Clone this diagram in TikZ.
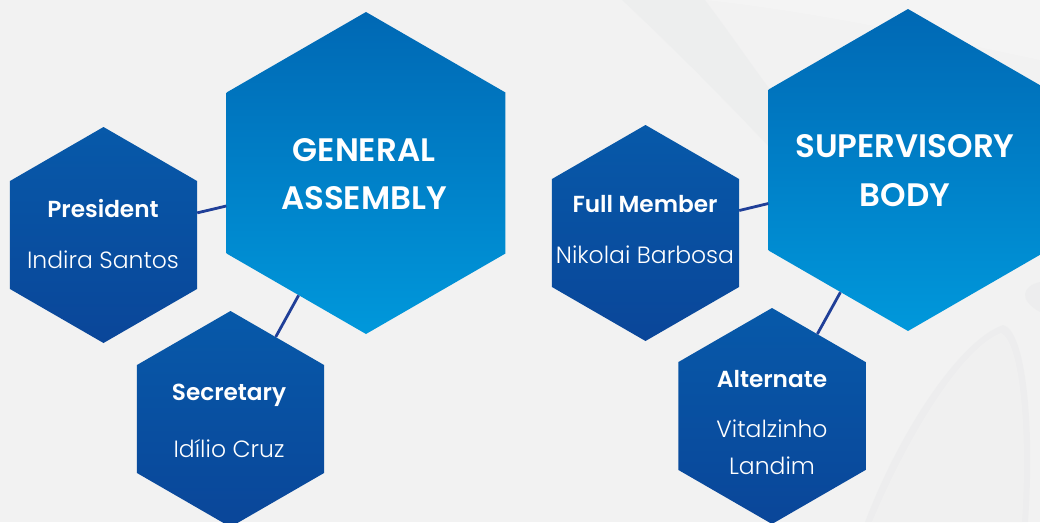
\documentclass[tikz,border=0pt]{standalone}
\usepackage{fontspec}
\setmainfont{Poppins}
\newfontfamily\popsemi{Poppins SemiBold}
\newfontfamily\poplight{Poppins Light}
\usetikzlibrary{shapes.geometric}

\definecolor{bg}{HTML}{F2F2F2}
\definecolor{swoosh}{HTML}{E9EAEB}
\definecolor{bigtop}{HTML}{0068B4}
\definecolor{bigbot}{HTML}{0098DB}
\definecolor{smalltop}{HTML}{0759A9}
\definecolor{smallbot}{HTML}{0A4699}
\definecolor{linkblue}{HTML}{203F98}

\tikzset{
  hexbase/.style={regular polygon, regular polygon sides=6, shape border rotate=30,
    inner sep=0pt, draw=none},
  bighex/.style={hexbase, minimum size=322pt, top color=bigtop, bottom color=bigbot},
  smallhex/.style={hexbase, minimum size=216pt, top color=smalltop, bottom color=smallbot},
  title/.style={text=white, font=\popsemi\fontsize{32.5}{32.5}\selectfont, anchor=base},
  role/.style={text=white, font=\popsemi\fontsize{23.2}{23.2}\selectfont, anchor=base},
  person/.style={text=white, font=\poplight\fontsize{23.5}{23.5}\selectfont, anchor=base},
  link/.style={draw=linkblue, line width=2.8pt},
}

\begin{document}
\begin{tikzpicture}[x=1pt, y=-1pt]
  % canvas
  \fill[bg] (0,0) rectangle (1040,522);
  \useasboundingbox (0,0) rectangle (1040,522);

  % soft background sweeps
  \fill[swoosh, opacity=0.45] (622,0) -- (705,0) .. controls (735,40) and (755,70) .. (772,92)
      -- (772,150) .. controls (720,95) and (670,45) .. (622,0) -- cycle;
  \fill[white, opacity=0.2] (705,0) -- (1040,0) -- (1040,60) .. controls (900,30) and (800,10) .. (705,0) -- cycle;
  \fill[swoosh, opacity=0.5] (865,522) .. controls (900,430) and (960,340) .. (1003,325)
      .. controls (1025,330) and (1035,420) .. (1028,522) -- cycle;
  \fill[bg, opacity=0.7] (872,522) .. controls (908,436) and (962,348) .. (1001,333)
      .. controls (1020,342) and (1028,430) .. (1022,522) -- cycle;
  \fill[swoosh, opacity=0.5] (1040,282) .. controls (1022,286) and (1018,300) .. (1040,312) -- cycle;

  % hexagons
  \node[bighex]   (ga)   at (366,173) {};
  \node[bighex]   (sb)   at (908,170) {};
  \node[smallhex] (pres) at (103.5,235) {};
  \node[smallhex] (sec)  at (230.5,419) {};
  \node[smallhex] (full) at (645.5,233) {};
  \node[smallhex] (alt)  at (772,416) {};

  % links between the bodies and their members
  \draw[link] (pres) -- (ga);
  \draw[link] (sec)  -- (ga);
  \draw[link] (full) -- (sb);
  \draw[link] (alt)  -- (sb);

  % texts
  \node[title]  (ga1) at (364,161) {GENERAL};
  \node[title]  (ga2) at (364,209) {ASSEMBLY};
  \node[title]  (sb1) at (905,157) {SUPERVISORY};
  \node[title]  (sb2) at (905,206) {BODY};

  \node[role]   (presr) at (103,217) {President};
  \node[person] (presn) at (103,268) {Indira Santos};
  \node[role]   (secr)  at (229,400) {Secretary};
  \node[person] (secn)  at (229,457) {Idílio Cruz};
  \node[role]   (fullr) at (645,212) {Full Member};
  \node[person] (fulln) at (645,263) {Nikolai Barbosa};
  \node[role]   (altr)  at (772,387) {Alternate};
  \node[person] (altn1) at (772,437) {Vitalzinho};
  \node[person] (altn2) at (772,474) {Landim};
\end{tikzpicture}
\end{document}
